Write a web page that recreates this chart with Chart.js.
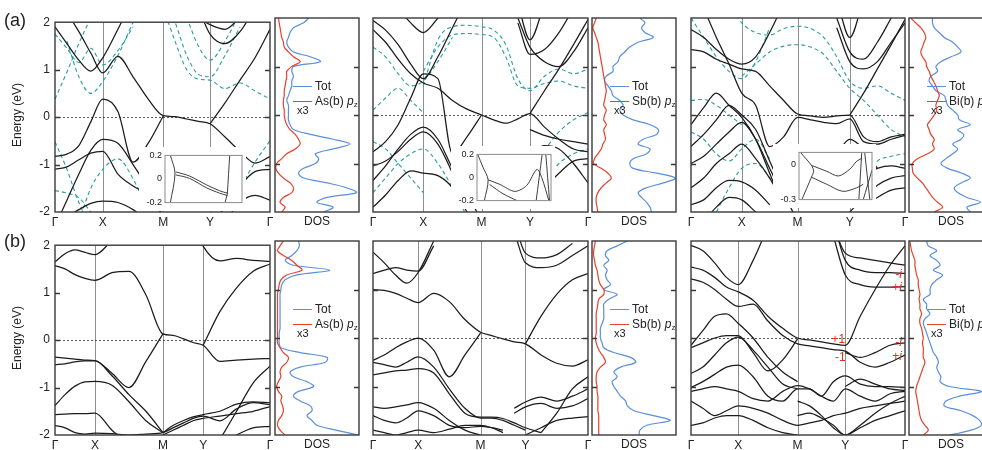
<!DOCTYPE html>
<html>
<head>
<meta charset="utf-8">
<script src="https://cdn.jsdelivr.net/npm/chart.js@4.4.1/dist/chart.umd.min.js"></script>
<style>
  html, body { margin: 0; padding: 0; background: #fff; width: 982px; height: 450px; overflow: hidden; }
  body { position: relative; font-family: 'Liberation Sans', Arial, sans-serif; color: #222; }
  canvas { position: absolute; }
  .t { position: absolute; white-space: nowrap; line-height: 14px; }
  .ln { position: absolute; height: 0; width: 19px; }
  sub { font-size: 8px; vertical-align: -2px; }
</style>
</head>
<body>
<script>
const _ = null;

// k-path Γ-X-M-Y-Γ, samples at these fractions of every segment
const kSteps = [0, 0.25, 0.5, 0.75];
const symLabels = ['Γ', 'X', 'M', 'Y', 'Γ'];
const symA = [[0, 0.222, 0.504, 0.721, 1], [0, 0.234, 0.505, 0.73, 1], [0, 0.237, 0.498, 0.742, 1]];
const symB = [[0, 0.186, 0.502, 0.689, 1], [0, 0.21, 0.5, 0.709, 1], [0, 0.221, 0.498, 0.721, 1]];
const yTicks = [2, 1, 0, -1, -2];

// band energies (eV) at the 17 k samples
const bandsA1 = [
  [1.9, 1.55, 1.2, 0.97, 1.25, 1.85, 2.5, _, _, _, _, _, _, _, _, _, _],
  [2.5, 2.2, 1.8, 1.35, 0.93, 1.28, 0.85, 0.38, 0.03, 0.01, -0.04, -0.09, -0.14, -0.42, -0.72, -0.97, -0.83],
  [_, _, _, _, _, _, _, _, _, _, _, _, -0.14, 0.3, 0.78, 1.25, 1.85],
  [-0.83, -0.78, -0.6, -0.1, 0.38, 0.12, -0.95, -0.55, 0.03, _, _, _, _, _, _, _, _],
  [-2.3, -1.75, -1.2, -0.7, -0.47, -0.55, -1.0, -1.5, -2.1, _, _, _, _, _, _, _, _],
  [-1.1, -1.05, -0.9, -0.76, -0.72, -1.2, -1.45, -1.65, -2.1, _, _, _, _, _, _, _, _],
  [_, -2.1, -1.95, -1.82, -1.77, -1.8, -1.95, -2.2, _, _, _, _, _, _, _, _, _],
  [_, _, _, _, _, _, _, _, _, _, _, _, -2.3, -1.9, -1.45, -1.15, -1.1],
  [_, _, _, _, _, _, _, _, _, _, _, _, _, -2.2, -1.8, -1.65, -1.75],
  [_, _, _, _, _, _, _, _, _, _, _, 2.3, 1.75, 1.55, 1.8, 2.3, _],
  [_, _, _, _, _, _, _, _, _, _, _, 2.1, 1.95, 1.85, 2.1, _, _]
];
const tealA1 = [
  [0.38, 0.95, 1.55, 2.1, _, _, _, _, _, _, _, _, _, _, _, _, _],
  [1.75, 1.45, 1.15, 1.45, 1.1, 1.4, 1.9, _, _, _, _, _, _, _, _, _, _],
  [_, 1.6, 0.85, 0.5, 0.75, 1.3, 2.0, _, _, _, _, _, _, _, _, _, _],
  [_, _, _, _, _, _, _, _, 2.3, 1.6, 1.0, 0.8, 0.78, 0.6, 0.72, 0.55, 0.38],
  [_, _, _, _, _, _, _, _, 2.5, 2.0, 1.3, 0.9, 0.85, 1.3, 1.9, _, _],
  [_, _, _, _, _, _, _, _, _, _, 2.1, 1.5, 1.2, 1.6, 2.2, _, _],
  [-0.52, -1.1, -1.8, -2.3, _, _, _, _, _, _, _, _, _, _, _, _, _],
  [_, _, -2.2, -1.5, -1.1, -0.88, -1.3, -2.0, _, _, _, _, _, _, _, _, _],
  [-1.55, -1.6, -1.7, -2.0, -2.3, _, _, _, _, _, _, _, _, _, _, _, _],
  [_, _, _, _, _, _, _, _, _, _, _, _, _, -2.1, -1.5, -0.95, -0.5]
];
const bandsA2 = [
  [1.76, 1.5, 1.15, 0.85, 0.66, 0.55, 0.3, 0.12, 0.0, -0.1, -0.17, -0.08, 0.03, -0.25, -0.5, -0.7, -0.76],
  [-0.76, -0.55, -0.2, 0.35, 0.85, 0.75, -0.8, -0.45, 0.0, _, _, _, _, _, _, _, _],
  [_, _, _, _, _, _, _, _, _, _, _, _, 0.03, 0.5, 0.95, 1.45, 1.97],
  [1.95, 1.75, 1.45, 1.05, 0.75, 1.2, 1.8, 2.4, _, _, _, _, _, _, _, _, _],
  [_, _, 2.2, 1.9, 1.7, 2.0, 2.4, _, _, _, _, _, _, _, _, _, _],
  [-1.35, -1.05, -0.7, -0.4, -0.25, -0.5, -1.1, -1.6, -2.2, _, _, _, _, _, _, _, _],
  [-1.05, -0.95, -0.75, -0.5, -0.35, -0.6, -1.2, -1.9, _, _, _, _, _, _, _, _, _],
  [-1.9, -1.65, -1.35, -1.15, -1.2, -1.25, -1.5, -2.0, _, _, _, _, _, _, _, _, _],
  [_, _, _, _, _, _, _, _, _, _, _, _, -0.8, -0.63, -0.7, -1.0, -1.4],
  [_, _, _, _, _, _, _, _, _, _, _, _, -0.3, -0.42, -0.5, -0.55, -0.6],
  [_, _, _, _, _, _, _, _, _, _, _, _, _, -1.5, -1.2, -0.95, -0.9],
  [_, _, _, _, _, _, _, _, _, _, _, 2.3, 1.55, 2.3, _, _, _],
  [_, _, _, _, _, _, _, _, _, _, _, 1.9, 1.25, 1.35, 1.7, 2.2, _],
  [_, _, _, _, _, _, _, _, _, _, _, 2.0, 1.4, 1.1, 1.0, 1.3, 1.8]
];
const tealA2 = [
  [_, _, _, _, 0.6, 1.55, 1.82, 1.85, 1.82, 1.75, 1.45, 0.75, 0.5, 0.8, 0.95, 0.85, 0.95],
  [_, _, _, _, 0.9, 1.4, 1.65, 1.68, 1.66, 1.6, 1.2, 0.6, 0.55, 0.65, 0.7, 0.6, 0.55],
  [0.1, 0.35, 0.55, 0.3, 0.05, _, _, _, _, _, _, _, _, _, _, _, _],
  [1.4, 1.2, 0.85, 0.6, 0.7, 1.1, 1.6, _, _, _, _, _, _, _, _, _, _],
  [-0.55, -0.7, -1.0, -1.3, -1.6, _, _, _, _, _, _, _, _, _, _, _, _],
  [_, _, _, _, _, _, _, _, _, _, _, _, -1.4, -0.75, -0.35, -0.1, 0.05],
  [_, _, _, _, _, _, _, _, _, _, _, _, -1.9, -1.4, -1.0, -0.8, -0.7],
  [-1.6, -1.3, -1.0, -0.8, -0.7, -1.0, -1.5, -2.1, _, _, _, _, _, _, _, _, _]
];
const bandsA3 = [
  [1.76, 1.6, 1.35, 1.15, 1.05, 1.2, 1.7, 2.3, _, _, _, _, _, _, _, _, _],
  [1.35, 1.3, 1.15, 1.05, 0.95, 0.9, 0.6, 0.3, 0.02, -0.02, -0.05, -0.02, 0.0, -0.45, -0.55, -0.45, -0.4],
  [_, 2.2, 1.6, 1.05, 0.45, 0.2, -0.65, -0.45, -0.05, -0.1, -0.15, -0.18, -0.08, -0.55, -0.6, -0.5, -0.42],
  [_, _, _, _, _, _, _, _, _, _, _, _, 0.0, 0.45, 0.95, 1.45, 1.97],
  [-0.2, 0.15, 0.45, 0.2, -0.05, -0.5, -1.2, -1.9, _, _, _, _, _, _, _, _, _],
  [-0.65, -0.4, -0.1, 0.2, 0.0, -0.3, -0.95, -1.6, -2.2, _, _, _, _, _, _, _, _],
  [-1.0, -0.85, -0.6, -0.35, -0.15, -0.5, -1.1, -1.7, _, _, _, _, _, _, _, _, _],
  [-1.5, -1.3, -1.0, -0.8, -0.6, -0.9, -1.3, -1.8, _, _, _, _, _, _, _, _, _],
  [-1.85, -1.75, -1.5, -1.35, -1.38, -1.55, -1.85, _, _, _, _, _, _, _, _, _, _],
  [_, -2.2, -1.9, -1.7, -1.75, -2.0, _, _, _, _, _, _, _, _, _, _, _],
  [_, _, _, _, _, _, _, _, _, _, _, _, -1.5, -1.25, -1.1, -1.05, -1.1],
  [_, _, _, _, _, _, _, _, _, _, _, _, -2.0, -1.7, -1.45, -1.3, -1.25],
  [_, _, _, _, _, _, _, _, _, _, _, _, _, -1.9, -1.7, -1.55, -1.5],
  [_, _, _, _, _, _, _, _, _, _, _, -0.8, -0.5, -0.7, -1.1, _, _],
  [_, _, _, _, _, _, _, _, _, _, _, 2.4, 1.6, 2.4, _, _, _],
  [_, _, _, _, _, _, _, _, _, _, _, 2.0, 1.3, 1.15, 1.5, 2.0, _],
  [_, _, _, _, _, _, _, _, _, _, _, 1.8, 1.1, 0.95, 1.1, 1.5, 1.9]
];
const tealA3 = [
  [_, _, _, 2.3, 1.9, 1.7, 1.65, 1.78, 1.83, 1.78, 1.6, 1.2, 0.7, 0.55, 0.6, 0.45, 0.3],
  [_, _, _, _, 0.8, 1.05, 1.3, 1.42, 1.45, 1.4, 1.25, 0.9, 0.55, 0.3, 0.0, -0.3, -0.45],
  [0.3, 0.32, 0.2, 0.0, -0.2, _, _, _, _, _, _, _, _, _, _, _, _],
  [-0.35, -0.5, -0.8, -0.95, -0.7, -0.5, -0.9, _, _, _, _, _, _, _, _, _, _],
  [_, _, _, _, _, _, _, _, _, _, _, _, _, -1.3, -0.95, -0.85, -0.8],
  [2.0, 1.6, 1.2, 0.9, 0.75, 1.1, 1.8, _, _, _, _, _, _, _, _, _, _],
  [_, _, -2.0, -1.5, -1.1, -1.0, -1.3, -1.8, _, _, _, _, _, _, _, _, _]
];
const bandsB1 = [
  [1.65, 1.82, 1.9, 1.85, 1.8, 2.1, _, _, _, _, _, _, _, _, _, _, _],
  [1.57, 1.5, 1.38, 1.3, 1.26, 1.42, 1.45, 0.95, 0.13, 0.1, 0.03, -0.05, -0.11, -0.45, -0.42, -0.4, -0.39],
  [_, _, _, _, _, _, _, _, _, _, _, _, -0.11, 0.6, 1.1, 1.45, 1.6],
  [_, _, _, _, _, _, _, _, _, _, _, 2.5, 1.98, 1.67, 1.72, 1.68, 1.66],
  [-0.36, -0.38, -0.4, -0.42, -0.43, -0.7, -1.0, -0.45, 0.13, _, _, _, _, _, _, _, _],
  [-0.52, -0.5, -0.46, -0.44, -0.44, -0.75, -1.15, -1.5, -1.95, _, _, _, _, _, _, _, _],
  [-1.38, -1.15, -0.97, -0.88, -0.87, -0.95, -1.3, -1.7, -1.95, _, _, _, _, _, _, _, _],
  [-1.57, -1.56, -1.55, -1.55, -1.54, -1.9, -2.2, _, _, _, _, _, _, _, _, _, _],
  [-1.8, -1.85, -1.95, -1.98, -1.96, -1.97, -2.0, -1.98, -1.95, -1.85, -1.75, -1.65, -1.6, -1.7, -1.45, -1.32, -1.36],
  [_, _, _, _, _, _, _, _, -1.95, -1.8, -1.7, -1.62, -1.57, -1.5, -1.35, -1.3, -1.32],
  [_, _, _, _, _, _, _, _, -2.0, -1.9, -1.8, -1.7, -1.65, -1.6, -1.55, -1.5, -1.4],
  [_, _, _, _, _, _, _, _, _, _, _, _, _, -2.1, -1.5, -0.9, -0.55],
  [_, _, _, _, _, _, _, _, _, _, _, _, _, -2.2, -2.0, -1.85, -1.82]
];
const bandsB2 = [
  [1.77, 1.55, 1.3, 1.13, 1.35, 2.0, _, _, _, _, _, _, _, _, _, _, _],
  [1.33, 1.4, 1.45, 1.4, 1.38, 1.9, _, _, _, _, _, _, _, _, _, _, _],
  [1.0, 0.98, 0.92, 0.82, 0.73, 0.92, 0.75, 0.38, 0.12, 0.05, -0.02, -0.08, -0.12, -0.35, -0.52, -0.58, -0.45],
  [_, _, _, _, _, _, _, _, _, _, _, _, -0.12, 0.45, 0.9, 1.2, 1.33],
  [_, _, _, _, _, _, _, _, _, _, _, 2.4, 1.75, 1.65, 1.72, 1.95, _],
  [_, _, _, _, _, _, _, _, _, _, _, 2.2, 1.55, 1.45, 1.5, 1.7, 1.9],
  [-0.46, -0.35, -0.2, -0.08, 0.0, -0.25, -0.8, -0.35, 0.1, _, _, _, _, _, _, _, _],
  [-0.5, -0.55, -0.6, -0.5, -0.39, -0.6, -1.05, -1.45, -1.65, -1.65, -1.7, -1.8, -1.9, _, _, _, _],
  [-0.76, -0.72, -0.68, -0.66, -0.63, -0.72, -1.15, -1.55, -1.63, -1.63, -1.66, -1.75, -1.85, -1.95, _, _, _],
  [-1.42, -1.45, -1.42, -1.38, -1.33, -1.45, -1.7, -1.9, -2.0, _, _, _, _, _, _, _, _],
  [-1.6, -1.7, -1.75, -1.65, -1.5, -1.6, -1.8, -1.85, -1.82, -1.85, -1.9, _, _, _, _, _, _],
  [-1.9, -1.95, -2.0, -1.95, -1.9, -1.95, -1.88, -1.8, -1.8, -1.85, -1.95, _, _, _, _, _, _],
  [_, _, _, _, _, _, _, _, _, _, _, -1.45, -1.32, -1.22, -1.3, -1.2, -1.05],
  [_, _, _, _, _, _, _, _, _, _, _, -1.55, -1.42, -1.35, -1.45, -1.4, -1.25],
  [_, _, _, _, _, _, _, _, _, _, _, _, _, -1.95, -1.55, -1.05, -0.8],
  [_, _, _, _, _, _, _, _, _, _, _, _, -2.0, -1.85, -1.7, -1.65, -1.62]
];
const bandsB3 = [
  [1.91, 1.8, 1.55, 1.25, 1.1, 1.6, 2.3, _, _, _, _, _, _, _, _, _, _],
  [1.46, 1.4, 1.25, 1.05, 0.95, 0.78, 0.45, 0.2, 0.0, -0.04, -0.08, -0.12, -0.15, 0.45, 1.0, 1.5, 1.9],
  [1.22, 1.15, 1.0, 0.8, 0.65, 0.7, 0.35, 0.05, -0.12, -0.16, -0.2, -0.24, -0.27, -0.5, -0.6, -0.5, -0.35],
  [-0.2, -0.1, 0.0, 0.05, 0.05, -0.3, -0.68, -0.45, -0.02, _, _, _, _, _, _, _, _],
  [-0.15, 0.15, 0.45, 0.5, 0.3, 0.0, -0.4, -0.7, -0.9, _, _, _, _, _, _, _, _],
  [-0.73, -0.6, -0.35, -0.1, 0.02, -0.25, -0.6, -0.95, -1.05, _, _, _, _, _, _, _, _],
  [-1.02, -0.9, -0.75, -0.6, -0.56, -0.8, -1.2, -1.3, -1.05, -1.05, -1.2, -0.9, -0.78, -0.95, -1.0, -1.0, -1.02],
  [-1.1, -1.05, -1.0, -1.05, -1.1, -1.25, -1.3, -1.1, -0.98, -1.05, -1.2, -1.3, -1.05, -1.2, -1.3, -1.15, -1.1],
  [-1.3, -1.45, -1.6, -1.5, -1.4, -1.45, -1.55, -1.7, -1.8, -1.75, -1.7, -1.6, -1.55, -1.45, -1.4, -1.35, -1.3],
  [-1.8, -1.75, -1.65, -1.6, -1.6, -1.7, -1.85, -1.95, -2.0, _, _, _, _, _, _, _, _],
  [_, _, _, _, _, _, _, _, _, _, _, _, -0.3, -0.4, -0.3, -0.15, -0.1],
  [_, _, _, _, _, _, _, _, _, _, _, 2.4, 1.6, 1.4, 1.35, 1.35, 1.33],
  [_, _, _, _, _, _, _, _, _, _, _, 2.1, 1.3, 1.1, 1.05, 1.05, 1.06],
  [_, _, _, _, _, _, _, _, _, _, _, 2.3, 1.75, 1.65, 1.6, 1.55, 1.5],
  [_, _, _, _, _, _, _, _, -1.3, -1.4, -1.6, -1.85, -2.0, -1.8, -1.55, -1.35, -1.2],
  [_, _, _, _, _, _, _, _, -1.6, -1.55, -1.65, -1.8, -2.0, -1.85, -1.7, -1.6, -1.5],
  [_, _, _, _, _, _, _, _, _, _, _, _, -1.0, -0.85, -0.95, -1.05, -1.08]
];

// parity labels in panel (b) right
const parityText = ['+1', '-1', '-i', '+i', '-i', '+i'];
const parityK = [0.688, 0.698, 0.97, 0.963, 0.97, 0.963];
const parityE = [-0.04, -0.41, 1.3, 1.03, -0.1, -0.39];

// DOS: energy grid and curves (arbitrary units)
const eGrid = [2, 1.9, 1.8, 1.7, 1.6, 1.5, 1.4, 1.3, 1.2, 1.1, 1, 0.9, 0.8, 0.7, 0.6, 0.5, 0.4, 0.3, 0.2, 0.1, 0,
  -0.1, -0.2, -0.3, -0.4, -0.5, -0.6, -0.7, -0.8, -0.9, -1, -1.1, -1.2, -1.3, -1.4, -1.5, -1.6, -1.7, -1.8, -1.9, -2];
const dosTotA1 = [.40, .34, .22, .18, .16, .14, .16, .22, .42, .54, .22, .20, .22, .20, .20, .18, .16, .14, .16, .16, .16,
  .16, .18, .22, .42, .69, .89, .69, .48, .52, .48, .34, .28, .34, .62, .85, .97, .62, .50, .69, .58];
const dosPzA1 = [.04, .05, .06, .07, .08, .10, .11, .16, .22, .30, .20, .14, .14, .13, .12, .11, .11, .10, .10, .11, .11,
  .12, .14, .18, .24, .28, .30, .24, .14, .08, .02, .01, .04, .10, .18, .22, .20, .10, .06, .12, .08];
const dosTotA2 = [.57, .63, .59, .63, .73, .55, .45, .39, .33, .31, .25, .25, .17, .15, .19, .23, .25, .33, .37, .33, .37,
  .49, .69, .79, .77, .61, .55, .69, .65, .49, .45, .49, .77, .99, .85, .65, .55, .59, .65, .69, .71];
const dosPzA2 = [.05, .03, .01, .03, .05, .07, .08, .09, .10, .11, .12, .13, .14, .15, .16, .17, .16, .15, .14, .17, .15,
  .14, .17, .14, .15, .16, .13, .11, .07, .03, .02, .11, .19, .23, .17, .11, .07, .05, .05, .06, .07];
const dosTotA3 = [.28, .28, .30, .36, .42, .52, .58, .62, .50, .38, .32, .34, .26, .24, .28, .32, .42, .44, .46, .52, .58,
  .60, .73, .58, .65, .62, .52, .58, .52, .44, .38, .46, .63, .73, .62, .54, .58, .69, .85, .69, .73];
const dosPzA3 = [.02, .08, .14, .18, .20, .18, .16, .14, .16, .20, .21, .24, .26, .29, .32, .34, .36, .34, .32, .33, .30,
  .26, .22, .24, .26, .30, .28, .30, .22, .10, .04, .04, .05, .10, .16, .20, .24, .28, .34, .40, .30];
const dosTotB1 = [.28, .29, .26, .20, .12, .22, .65, .26, .12, .08, .07, .06, .06, .06, .06, .06, .06, .06, .06, .05, .05,
  .05, .07, .30, .62, .60, .30, .18, .22, .38, .46, .28, .22, .30, .42, .44, .38, .44, .50, .73, .99];
const dosPzB1 = [.10, .06, .03, .10, .20, .26, .32, .14, .07, .05, .04, .03, .03, .03, .03, .03, .03, .03, .03, .03, .03,
  .03, .06, .10, .16, .14, .08, .06, .07, .04, .02, .04, .08, .07, .09, .10, .08, .04, .03, .06, .12];
const dosTotB2 = [.42, .30, .18, .16, .20, .14, .18, .16, .18, .22, .14, .30, .20, .14, .14, .14, .14, .12, .10, .10, .10,
  .12, .14, .26, .46, .52, .34, .26, .30, .24, .26, .30, .34, .40, .42, .50, .73, .93, .65, .57, .56];
const dosPzB2 = [.04, .03, .02, .02, .03, .04, .06, .07, .08, .10, .14, .14, .08, .07, .06, .05, .05, .05, .05, .05, .04,
  .05, .07, .10, .14, .16, .10, .06, .05, .05, .06, .06, .07, .07, .07, .07, .08, .08, .08, .08, .08];
const dosTotB3 = [.21, .23, .33, .25, .33, .37, .29, .40, .33, .27, .25, .25, .17, .21, .21, .25, .19, .17, .19, .21, .23,
  .25, .27, .29, .33, .35, .33, .35, .38, .37, .48, .86, .60, .44, .42, .62, .76, .84, .86, .74, .48];
const dosPzB3 = [.01, .02, .03, .05, .07, .07, .08, .09, .11, .11, .12, .13, .12, .13, .13, .15, .13, .13, .15, .16, .17,
  .16, .17, .17, .17, .19, .17, .15, .13, .11, .09, .08, .09, .10, .11, .12, .13, .15, .19, .23, .17];

// insets (k as fraction of inset width, E in eV)
const insetA1K = [[.07, .13, .07], [.14, .32, .54, .71, .81], [.14, .32, .54, .71, .81], [.81, .84], [.81, .78]];
const insetA1E = [[.2, .05, -.2], [.06, .025, -.05, -.1, -.12], [.035, .005, -.075, -.12, -.14], [-.125, .2], [-.125, -.2]];
const insetA2K = [[.01, .08, .15, .10], [.15, .31, .51, .67, .81, .88, .97], [.17, .35, .54], [.88, .8], [.93, .98]];
const insetA2E = [[.2, .09, -.02, -.2], [-.02, -.06, -.12, -.07, .07, -.01, -.2], [-.06, -.14, -.2], [.2, -.2], [.2, -.2]];
const insetA3K = [[.02, .17, .2, .17, .04], [.17, .38, .54, .7, .79, .86], [.17, .38, .6, .79, .88], [.86, .82], [.9, .97], [.88, 1.0]];
const insetA3E = [[.1, -.01, -.06, -.11, -.3], [-.01, -.06, -.1, -.04, .025, .05], [-.11, -.17, -.23, -.2, -.17], [.1, -.3], [.1, -.3], [-.3, -.05]];

const FONT = "'Liberation Sans', Arial, sans-serif";
const BLACK = '#1c1c1c', TEAL = '#2b9d9d', BLUE = '#5a8fdb', RED = '#e8402a';
Chart.defaults.font.family = FONT;
Chart.defaults.color = '#222';

function addCanvas(l, t, w, h) {
  const c = document.createElement('canvas');
  c.width = w; c.height = h;
  c.style.left = l + 'px'; c.style.top = t + 'px';
  c.style.width = w + 'px'; c.style.height = h + 'px';
  document.body.appendChild(c);
  return c;
}

function addText(html, l, t, size, extra) {
  const d = document.createElement('div');
  d.className = 't';
  d.innerHTML = html;
  d.style.left = l + 'px';
  d.style.top = (t - 7) + 'px';
  d.style.fontSize = size + 'px';
  if (extra) Object.assign(d.style, extra);
  document.body.appendChild(d);
  return d;
}

function kPath(sym) {
  const k = [];
  for (let s = 0; s < 4; s++) kSteps.forEach(f => k.push(sym[s] + f * (sym[s + 1] - sym[s])));
  k.push(sym[4]);
  return k;
}

function makeDeco(cfg) {
  return {
    id: 'deco',
    beforeDraw(chart) {
      if (!cfg.fill) return;
      const c = chart.ctx;
      c.save(); c.fillStyle = cfg.fill; c.fillRect(0, 0, chart.width, chart.height); c.restore();
    },
    beforeDatasetsDraw(chart) {
      const { ctx, chartArea: a, scales: { x, y } } = chart;
      ctx.save();
      if (cfg.sym) {
        ctx.strokeStyle = '#8e8e8e'; ctx.lineWidth = 1;
        cfg.sym.slice(1, -1).forEach(v => {
          const px = Math.round(x.getPixelForValue(v)) + 0.5;
          ctx.beginPath(); ctx.moveTo(px, a.top); ctx.lineTo(px, a.bottom); ctx.stroke();
        });
      }
      if (cfg.fermi) {
        const py = Math.round(y.getPixelForValue(0)) + 0.5;
        ctx.strokeStyle = '#333'; ctx.lineWidth = 0.8; ctx.setLineDash([2, 2]);
        ctx.beginPath(); ctx.moveTo(a.left, py); ctx.lineTo(a.right, py); ctx.stroke();
      }
      ctx.restore();
    },
    afterDraw(chart) {
      const { ctx, chartArea: a, scales: { x, y } } = chart;
      ctx.save();
      ctx.strokeStyle = cfg.frame || '#3a3a3a';
      ctx.lineWidth = cfg.frameWidth || 1.4;
      ctx.strokeRect(a.left, a.top, a.right - a.left, a.bottom - a.top);
      (cfg.marks || []).forEach(v => {
        const py = Math.round(y.getPixelForValue(v)) + 0.5;
        ctx.beginPath();
        if (cfg.markLeft) { ctx.moveTo(a.left, py); ctx.lineTo(a.left + 5, py); }
        ctx.moveTo(a.right - 5, py); ctx.lineTo(a.right, py);
        ctx.stroke();
      });
      if (cfg.notes) {
        ctx.fillStyle = '#e0301e';
        ctx.textBaseline = 'middle';
        cfg.notes.text.forEach((s, i) => {
          const px = x.getPixelForValue(cfg.notes.k[i]);
          const py = y.getPixelForValue(cfg.notes.e[i]);
          const sign = s[0], rest = s.slice(1);
          ctx.font = '12px ' + FONT;
          const w1 = ctx.measureText(sign).width;
          ctx.font = (rest === 'i' ? 'italic ' : '') + '12px ' + FONT;
          const w2 = ctx.measureText(rest).width;
          const x0 = px - (w1 + w2) / 2;
          ctx.font = '12px ' + FONT;
          ctx.fillText(sign, x0, py);
          ctx.font = (rest === 'i' ? 'italic ' : '') + '12px ' + FONT;
          ctx.fillText(rest, x0 + w1, py);
        });
      }
      ctx.restore();
    }
  };
}

const baseOpts = {
  responsive: false, animation: false, devicePixelRatio: 1, events: [],
  plugins: { legend: { display: false }, tooltip: { enabled: false } }
};

function lineSet(k, band, color, width, dash) {
  return {
    data: band.map((e, i) => ({ x: k[i], y: e })),
    borderColor: color, borderWidth: width, borderDash: dash || [],
    pointRadius: 0, fill: false, spanGaps: false, cubicInterpolationMode: 'monotone'
  };
}

function bandPanel(box, sym, black, teal, showLabels, notes) {
  const cv = addCanvas(box.l - 40, box.t - 8, box.w + 48, box.h + 28);
  const k = kPath(sym);
  const datasets = black.map(b => lineSet(k, b, BLACK, 1.25))
    .concat(teal.map(b => lineSet(k, b, TEAL, 1.1, [4, 3])));
  new Chart(cv, {
    type: 'line',
    data: { datasets },
    options: Object.assign({}, baseOpts, {
      layout: { padding: { top: 8, right: 8, left: 0, bottom: 0 } },
      scales: {
        x: {
          type: 'linear', min: 0, max: 1,
          afterBuildTicks: s => { s.ticks = sym.map(v => ({ value: v })); },
          afterFit: s => { s.height = 20; },
          ticks: { autoSkip: false, maxRotation: 0, padding: 3, font: { size: 12 }, callback: (v, i) => symLabels[i] },
          grid: { display: false, drawTicks: false }, border: { display: false }
        },
        y: {
          min: -2, max: 2,
          afterBuildTicks: s => { s.ticks = yTicks.map(v => ({ value: v })); },
          afterFit: s => { s.width = 40; },
          ticks: { display: showLabels, padding: 5, font: { size: 12 }, callback: v => String(v) },
          grid: { display: false, drawTicks: false }, border: { display: false }
        }
      }
    }),
    plugins: [makeDeco({ sym, fermi: true, marks: [-1, 0, 1], markLeft: true, notes })]
  });
}

function dosPanel(box, tot, pz) {
  const cv = addCanvas(box.l - 3, box.t - 8, box.w + 6, box.h + 28);
  const curve = (vals, color) => ({
    data: vals.map((v, i) => ({ x: v, y: eGrid[i] })),
    borderColor: color, borderWidth: 1.2, pointRadius: 0, showLine: true, tension: 0.35, fill: false
  });
  new Chart(cv, {
    type: 'scatter',
    data: { datasets: [curve(pz, RED), curve(tot, BLUE)] },
    options: Object.assign({}, baseOpts, {
      layout: { padding: { top: 8, right: 3, left: 3, bottom: 0 } },
      scales: {
        x: {
          min: 0, max: 1,
          afterFit: s => { s.height = 20; },
          ticks: { display: false },
          title: { display: true, text: 'DOS', font: { size: 12 }, padding: { top: 2, bottom: 3 } },
          grid: { display: false, drawTicks: false }, border: { display: false }
        },
        y: { min: -2, max: 2, display: false }
      }
    }),
    plugins: [makeDeco({ marks: [-1, 0, 1], markLeft: true })]
  });
}

function insetPanel(box, ks, es, ymin, ymax, ticks) {
  const cv = addCanvas(box.l - 26, box.t - 6, box.w + 30, box.h + 10);
  const datasets = ks.map((kk, j) => ({
    data: kk.map((v, i) => ({ x: v, y: es[j][i] })),
    borderColor: '#2a2a2a', borderWidth: 0.9, pointRadius: 0, showLine: true, tension: 0.3, fill: false
  }));
  new Chart(cv, {
    type: 'scatter',
    data: { datasets },
    options: Object.assign({}, baseOpts, {
      layout: { padding: { top: 6, right: 4, left: 0, bottom: 4 } },
      scales: {
        x: { min: 0, max: 1, display: false },
        y: {
          min: ymin, max: ymax,
          afterBuildTicks: s => { s.ticks = ticks.map(v => ({ value: v })); },
          afterFit: s => { s.width = 26; },
          ticks: { padding: 3, font: { size: 9 }, callback: v => String(v) },
          grid: { display: false, drawTicks: false }, border: { display: false }
        }
      }
    }),
    plugins: [makeDeco({ fill: '#fff', frame: '#8a8a8a', frameWidth: 1 })]
  });
}

const rowT = [18, 241], H = 194;
const bandL = [55, 373, 691], bandW = [215, 215, 214];
const dosL = [275, 592, 909], dosW = 84;
const bandSets = [[bandsA1, bandsA2, bandsA3], [bandsB1, bandsB2, bandsB3]];
const tealSets = [[tealA1, tealA2, tealA3], [[], [], []]];
const dosSets = [[[dosTotA1, dosPzA1], [dosTotA2, dosPzA2], [dosTotA3, dosPzA3]],
                 [[dosTotB1, dosPzB1], [dosTotB2, dosPzB2], [dosTotB3, dosPzB3]]];
const atoms = ['As(b)', 'Sb(b)', 'Bi(b)'];

for (let r = 0; r < 2; r++) {
  for (let c = 0; c < 3; c++) {
    const sym = (r === 0 ? symA : symB)[c];
    const notes = (r === 1 && c === 2) ? { text: parityText, k: parityK, e: parityE } : null;
    bandPanel({ l: bandL[c], t: rowT[r], w: bandW[c], h: H }, sym, bandSets[r][c], tealSets[r][c], c === 0, notes);
    dosPanel({ l: dosL[c], t: rowT[r], w: dosW, h: H }, dosSets[r][c][0], dosSets[r][c][1]);
    // legend
    const L = dosL[c], T = rowT[r];
    const bl = document.createElement('div'); bl.className = 'ln';
    Object.assign(bl.style, { left: (L + 18) + 'px', top: (T + 68) + 'px', borderTop: '1.3px solid ' + BLUE });
    document.body.appendChild(bl);
    const rl = document.createElement('div'); rl.className = 'ln';
    Object.assign(rl.style, { left: (L + 18) + 'px', top: (T + 83) + 'px', borderTop: '1.3px solid ' + RED });
    document.body.appendChild(rl);
    addText('Tot', L + 40, T + 68, 12);
    addText(atoms[c] + ' <i>p</i><sub>z</sub>', L + 40, T + 83, 12);
    addText('x3', L + 22, T + 92, 11);
  }
}

insetPanel({ l: 165, t: 153, w: 77, h: 54 }, insetA1K, insetA1E, -0.2, 0.2, [0.2, 0, -0.2]);
insetPanel({ l: 477, t: 152, w: 74, h: 53 }, insetA2K, insetA2E, -0.2, 0.2, [0.2, 0, -0.2]);
insetPanel({ l: 799, t: 150, w: 73, h: 54 }, insetA3K, insetA3E, -0.3, 0.1, [0, -0.3]);

addText('(a)', 4, 20, 18, { lineHeight: '14px' });
addText('(b)', 4, 241, 18, { lineHeight: '14px' });
[115, 338].forEach(cy => {
  const d = addText('Energy (eV)', 17, cy + 7, 12);
  Object.assign(d.style, { transform: 'translate(-50%, -50%) rotate(-90deg)', top: cy + 'px' });
});
</script>
</body>
</html>
